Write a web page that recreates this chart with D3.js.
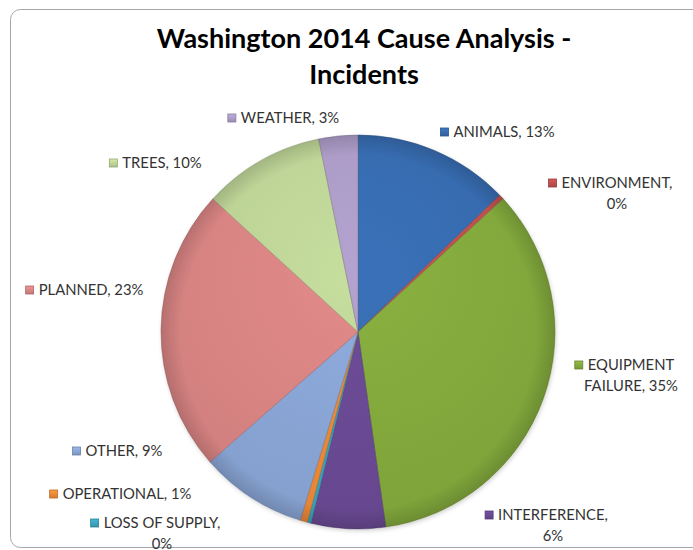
<!DOCTYPE html>
<html><head><meta charset="utf-8">
<script src="https://cdn.jsdelivr.net/npm/d3@7"></script>
<style>body{margin:0;background:#fff;} svg{display:block;}</style>
</head><body>
<svg id="chart" width="693" height="550"></svg>
<script>
// ---- data ----
const categories = ["ANIMALS","ENVIRONMENT","EQUIPMENT FAILURE","INTERFERENCE","LOSS OF SUPPLY","OPERATIONAL","OTHER","PLANNED","TREES","WEATHER"];
const shares = [12.8, 0.4, 34.6, 6.1, 0.3, 0.6, 8.8, 23.3, 10.0, 3.2];
const colors = ["#376cb0","#c0504d","#83aa3d","#6a4a94","#3aa5bf","#ee8a37","#8aa6d6","#d98584","#bed597","#ac9cc7"];
const titleLines = ["Washington 2014 Cause Analysis -", "Incidents"];

// ---- layout (label anchor: text centre x, first-line centre y, words on first line; 0 = single line) ----
const labelLayout = [
  {cx:504, cy:132, firstWords:0},
  {cx:617, cy:183, firstWords:1},
  {cx:631, cy:365, firstWords:1},
  {cx:553, cy:515, firstWords:1},
  {cx:162, cy:523, firstWords:3},
  {cx:127, cy:494, firstWords:0},
  {cx:124, cy:451, firstWords:0},
  {cx:91,  cy:290, firstWords:0},
  {cx:162, cy:163, firstWords:0},
  {cx:290, cy:118, firstWords:0}
];

const svg = d3.select("#chart");
const defs = svg.append("defs");

// frame
svg.append("rect").attr("x",10.5).attr("y",9.5).attr("width",720).attr("height",538)
  .attr("rx",10).attr("fill","#fff").attr("stroke","#a6a6a6").attr("stroke-width",1);

// title
const title = svg.append("text").attr("text-anchor","middle")
  .attr("font-family","Lato, 'Open Sans', sans-serif").attr("font-weight","bold")
  .attr("font-size",27).attr("fill","#000");
title.selectAll("tspan").data(titleLines).join("tspan")
  .attr("x",364).attr("y",(d,i)=>48+i*36).text(d=>d);

// pie geometry
const cx = 358, cy = 332, R = 197;

// gradients: radial (bevel-like darker rim) per colour
colors.forEach((c,i)=>{
  const g = defs.append("radialGradient").attr("id","g"+i)
    .attr("gradientUnits","userSpaceOnUse").attr("cx",0).attr("cy",-R*0.3).attr("r",R*1.3)
    .attr("fx",0).attr("fy",-R*0.3);
  g.append("stop").attr("offset","0%").attr("stop-color", d3.color(c).brighter(0.12));
  g.append("stop").attr("offset","100%").attr("stop-color", d3.color(c).darker(0.12));
  const m = defs.append("linearGradient").attr("id","m"+i)
    .attr("x1",0).attr("y1",0).attr("x2",0).attr("y2",1);
  m.append("stop").attr("offset","0%").attr("stop-color", d3.color(c).brighter(0.3));
  m.append("stop").attr("offset","100%").attr("stop-color", d3.color(c).darker(0.3));
});
const rim = defs.append("radialGradient").attr("id","rim")
  .attr("gradientUnits","userSpaceOnUse").attr("cx",0).attr("cy",0).attr("r",R);
rim.append("stop").attr("offset","0.9").attr("stop-color","#000").attr("stop-opacity",0);
rim.append("stop").attr("offset","1").attr("stop-color","#000").attr("stop-opacity",0.14);

const shadow = defs.append("filter").attr("id","shadow").attr("x","-10%").attr("y","-10%").attr("width","120%").attr("height","120%");
shadow.append("feDropShadow").attr("dx",1).attr("dy",2).attr("stdDeviation",2).attr("flood-color","#000").attr("flood-opacity",0.18);

const total = d3.sum(shares);
const data = categories.map((c,i)=>({name:c, value:shares[i], i}));
const pie = d3.pie().value(d=>d.value).sort(null).startAngle(0).endAngle(2*Math.PI);
const arc = d3.arc().innerRadius(0).outerRadius(R);
const arcs = pie(data);

const gPie = svg.append("g").attr("transform",`translate(${cx},${cy})`);
gPie.append("circle").attr("r",R).attr("fill","#fff").attr("filter","url(#shadow)");
gPie.selectAll("path.slice").data(arcs).join("path").attr("class","slice")
  .attr("d",arc)
  .attr("fill",d=>`url(#g${d.data.i})`)
  .attr("stroke",d=>d3.color(colors[d.data.i]).darker(0.9))
  .attr("stroke-opacity",0.5)
  .attr("stroke-width",1)
  .attr("stroke-linejoin","round");
gPie.append("circle").attr("r",R).attr("fill","url(#rim)").attr("pointer-events","none");

// labels
const fmt = v => Math.round(v/total*100) + "%";
const gLab = svg.append("g").attr("font-family","Lato, 'Open Sans', sans-serif")
  .attr("font-size",14.8).attr("fill","#333");

data.forEach((d,i)=>{
  const L = labelLayout[i];
  const full = (d.name + ", " + fmt(d.value)).split(" ");
  const lines = L.firstWords ? [full.slice(0,L.firstWords).join(" "), full.slice(L.firstWords).join(" ")] : [full.join(" ")];
  let firstLeft = null;
  lines.forEach((ln,k)=>{
    const t = gLab.append("text").attr("x",L.cx).attr("y",L.cy + k*20.5)
      .attr("dy","0.36em").attr("text-anchor","middle").text(ln);
    if(k===0) firstLeft = L.cx - t.node().getComputedTextLength()/2;
  });
  const ms = 8;
  gLab.append("rect").attr("x",firstLeft - ms - 5).attr("y",L.cy - ms/2)
    .attr("width",ms).attr("height",ms)
    .attr("fill",`url(#m${i})`)
    .attr("stroke",d3.color(colors[i]).darker(0.7)).attr("stroke-width",0.8);
});
</script>
</body></html>
